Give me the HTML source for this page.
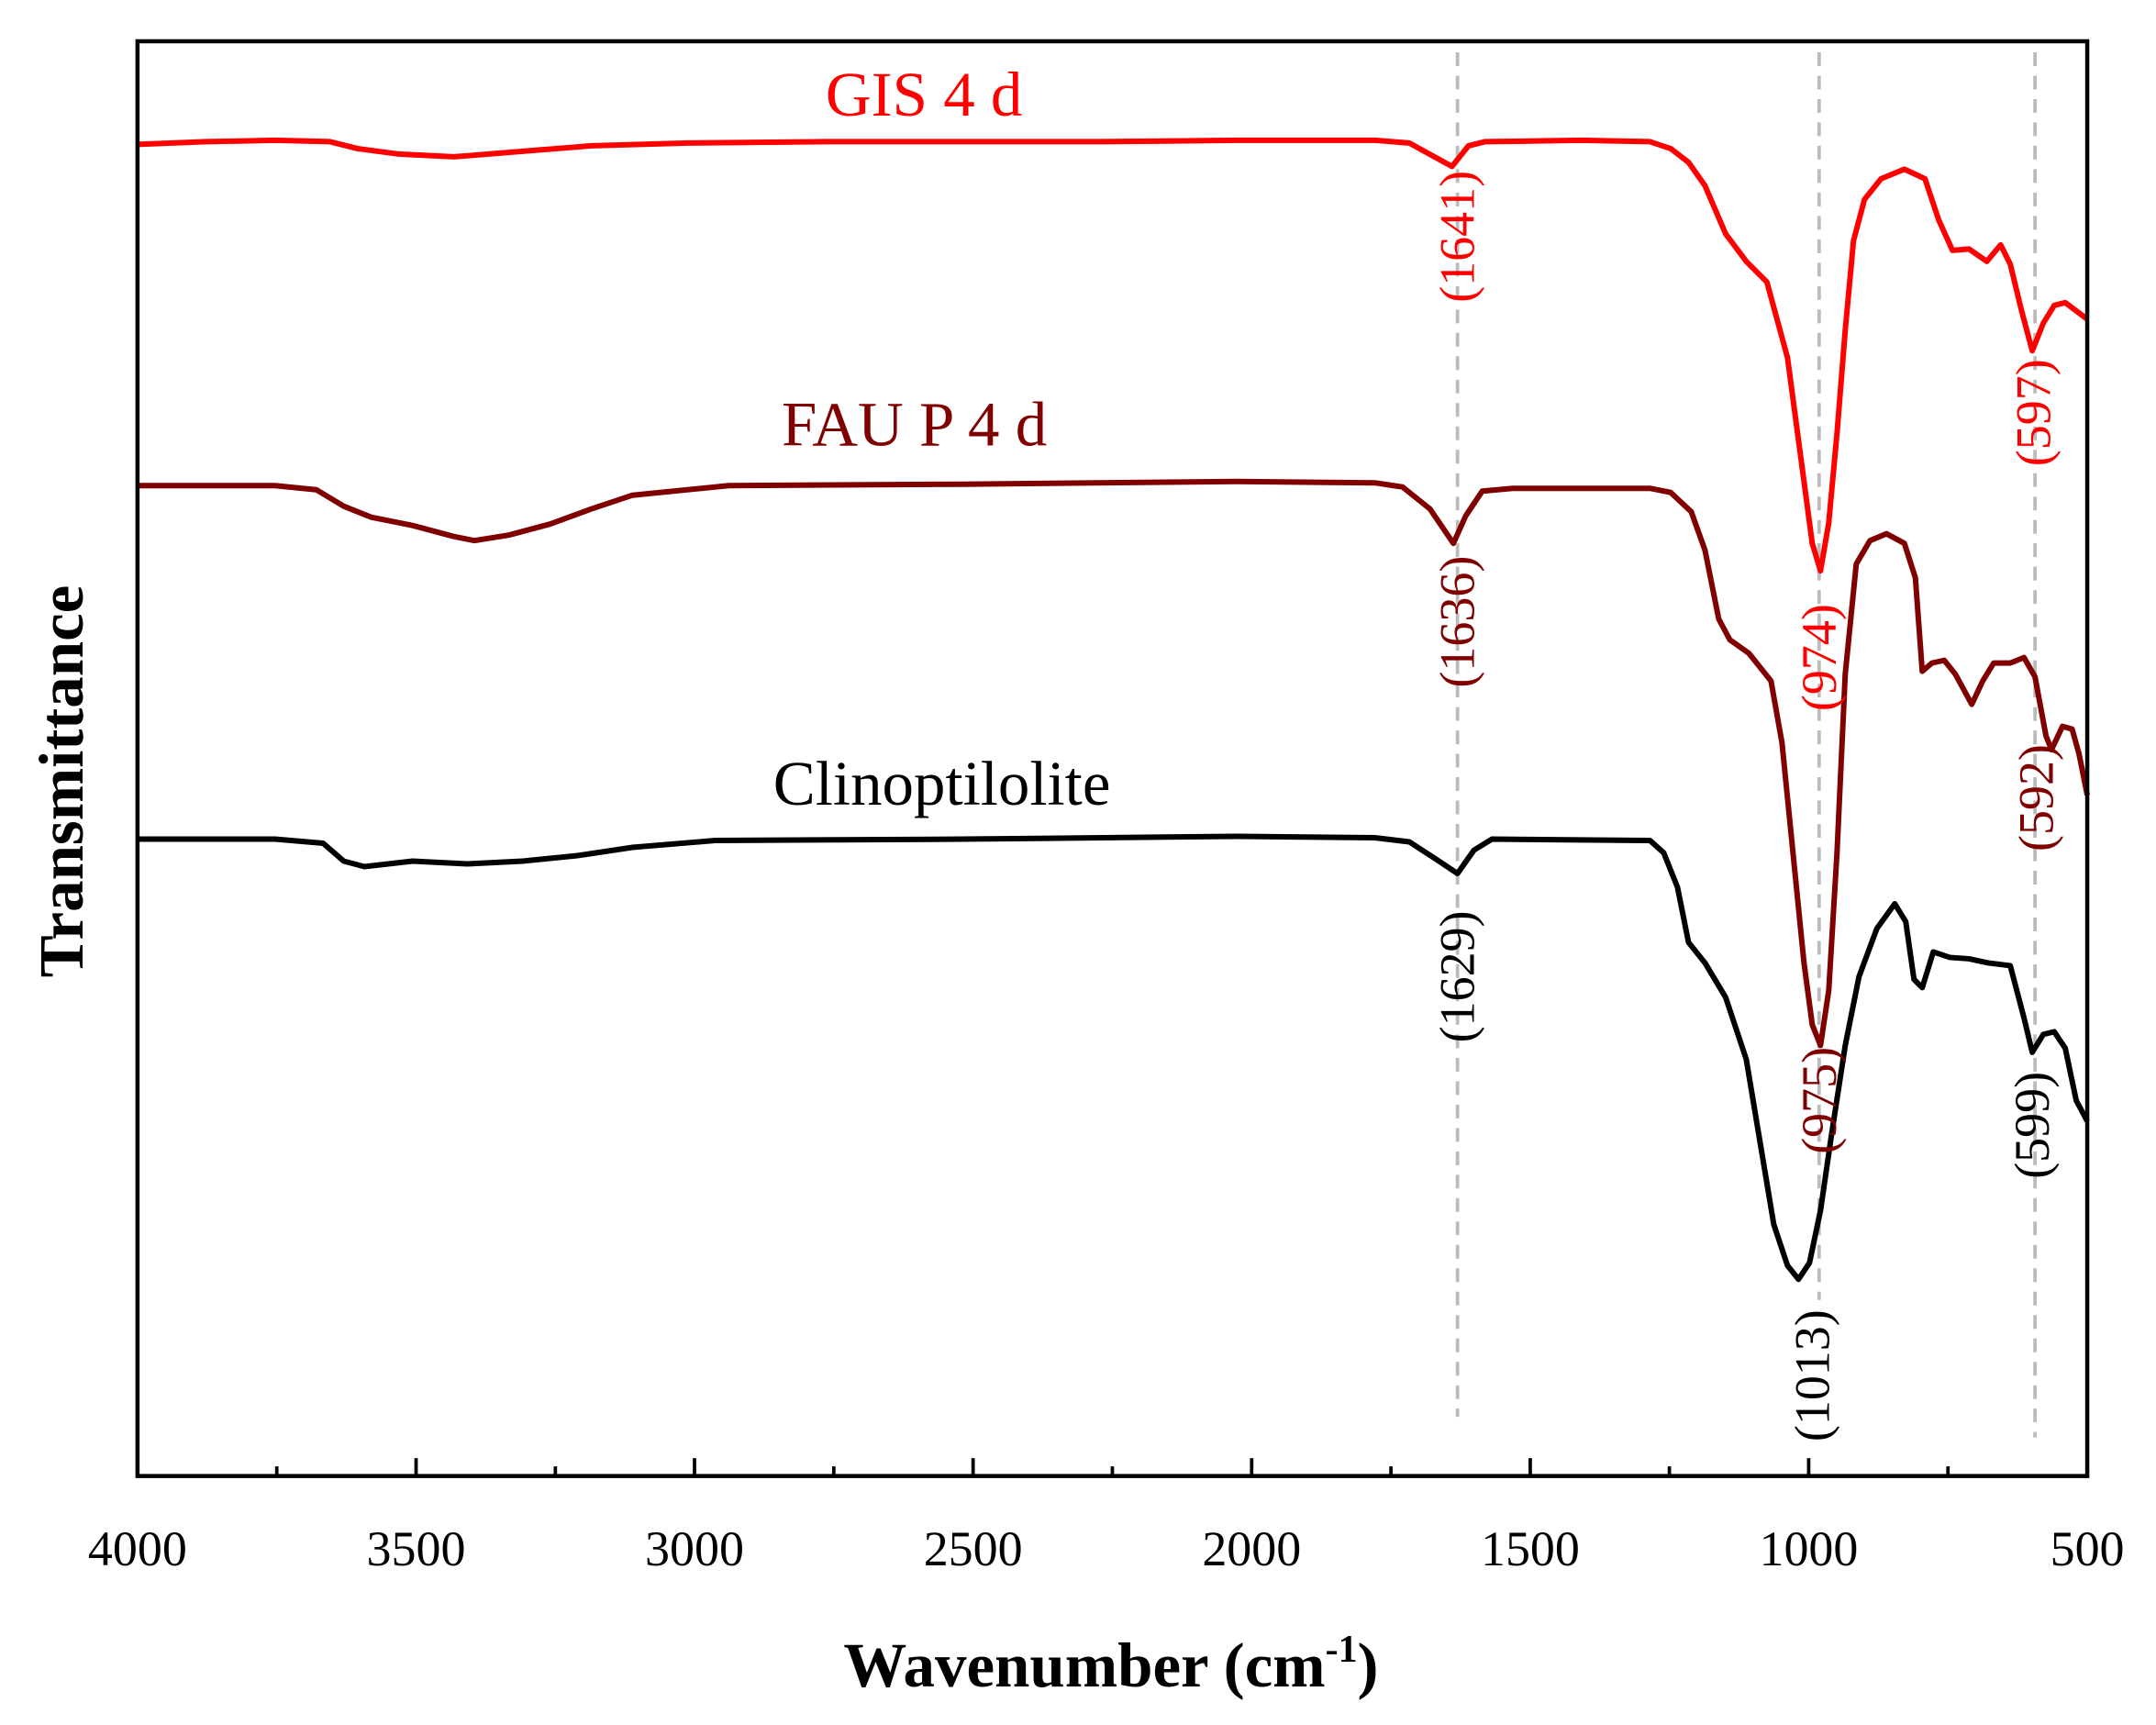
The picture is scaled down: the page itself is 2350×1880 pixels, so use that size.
<!DOCTYPE html>
<html><head><meta charset="utf-8"><style>html,body{margin:0;padding:0;background:#fff}svg{display:block}</style></head>
<body>
<svg width="2350" height="1880" viewBox="0 0 1568 1254" preserveAspectRatio="none" xmlns="http://www.w3.org/2000/svg" font-family="Liberation Serif, serif">
<rect width="1568" height="1254" fill="#fff"/>
<g stroke="#bbb" stroke-width="2.5" stroke-dasharray="10,7" fill="none">
<line x1="1060" y1="38" x2="1060" y2="1030"/>
<line x1="1323" y1="38" x2="1323" y2="945"/>
<line x1="1480" y1="38" x2="1480" y2="1045"/>
</g>
<polyline fill="none" stroke="#ff0000" stroke-width="4" stroke-linejoin="round" points="100,105 150,103 200,102 240,103 260,108 290,112 330,114 380,110 430,106 500,104 600,103 800,103 900,102 1000,102 1025,104 1045,115 1056,121 1068,106 1080,103 1150,102 1200,103 1215,108 1228,118 1240,135 1255,170 1270,190 1285,205 1300,260 1312,350 1318,395 1324,415 1330,380 1336,315 1342,240 1348,175 1356,145 1368,130 1385,123 1400,130 1410,160 1420,182 1432,181 1445,190 1455,178 1462,192 1470,225 1478,255 1486,235 1494,222 1502,220 1510,226 1518,232"/>
<polyline fill="none" stroke="#800000" stroke-width="4" stroke-linejoin="round" points="100,353 200,353 230,356 250,368 270,376 300,382 330,390 345,393 370,389 400,381 430,370 460,360 530,353 700,352 900,350 1000,351 1020,354 1040,370 1057,395 1066,375 1078,357 1100,355 1200,355 1215,358 1230,372 1240,400 1250,450 1258,465 1272,475 1288,495 1296,540 1304,620 1312,700 1318,745 1324,760 1330,720 1336,620 1342,490 1350,410 1360,393 1372,388 1385,395 1393,420 1398,488 1405,482 1414,480 1422,490 1434,512 1442,495 1450,482 1462,482 1472,478 1480,492 1488,535 1492,545 1500,528 1507,530 1512,548 1518,578"/>
<polyline fill="none" stroke="#000" stroke-width="4" stroke-linejoin="round" points="100,610 200,610 235,613 250,626 265,630 300,626 340,628 380,626 420,622 460,616 520,611 700,610 900,608 1000,609 1025,612 1045,625 1060,635 1072,618 1085,610 1200,611 1210,620 1220,645 1228,685 1240,700 1255,725 1270,770 1280,830 1290,890 1300,920 1308,930 1316,918 1324,880 1332,825 1342,760 1352,710 1365,675 1378,657 1386,670 1392,712 1398,718 1406,692 1418,696 1432,697 1446,700 1462,702 1472,740 1478,765 1486,752 1494,750 1502,762 1510,800 1518,815"/>
<rect x="100" y="30" width="1418" height="1043" fill="none" stroke="#000" stroke-width="3"/>
<g stroke="#000" stroke-width="2.5">
<line x1="100" y1="1073" x2="100" y2="1060"/><line x1="302.6" y1="1073" x2="302.6" y2="1060"/><line x1="505.1" y1="1073" x2="505.1" y2="1060"/><line x1="707.7" y1="1073" x2="707.7" y2="1060"/><line x1="910.3" y1="1073" x2="910.3" y2="1060"/><line x1="1112.9" y1="1073" x2="1112.9" y2="1060"/><line x1="1315.4" y1="1073" x2="1315.4" y2="1060"/>
<line x1="201.3" y1="1073" x2="201.3" y2="1066"/><line x1="403.9" y1="1073" x2="403.9" y2="1066"/><line x1="606.4" y1="1073" x2="606.4" y2="1066"/><line x1="809" y1="1073" x2="809" y2="1066"/><line x1="1011.6" y1="1073" x2="1011.6" y2="1066"/><line x1="1214.1" y1="1073" x2="1214.1" y2="1066"/><line x1="1416.7" y1="1073" x2="1416.7" y2="1066"/>
</g>
<g font-size="36" text-anchor="middle" fill="#000">
<text x="100" y="1138">4000</text><text x="302.6" y="1138">3500</text><text x="505.1" y="1138">3000</text><text x="707.7" y="1138">2500</text><text x="910.3" y="1138">2000</text><text x="1112.9" y="1138">1500</text><text x="1315.4" y="1138">1000</text><text x="1518" y="1138">500</text>
</g>
<text x="808" y="1226" font-size="46" font-weight="bold" text-anchor="middle">Wavenumber (cm<tspan font-size="28" dy="-18">-1</tspan><tspan dy="18">)</tspan></text>
<text transform="translate(60,568) rotate(-90)" font-size="46" font-weight="bold" text-anchor="middle">Transmittance</text>
<text x="672" y="84" font-size="46" fill="#ff0000" text-anchor="middle">GIS 4 d</text>
<text x="665" y="324" font-size="46" fill="#800000" text-anchor="middle">FAU P 4 d</text>
<text x="685" y="585" font-size="46" fill="#000" text-anchor="middle">Clinoptilolite</text>
<g font-size="36" text-anchor="middle">
<text transform="translate(1072,172) rotate(-90)" fill="#ff0000">(1641)</text>
<text transform="translate(1072,452) rotate(-90)" fill="#800000">(1636)</text>
<text transform="translate(1072,710) rotate(-90)" fill="#000">(1629)</text>
<text transform="translate(1335,478) rotate(-90)" fill="#ff0000">(974)</text>
<text transform="translate(1335,800) rotate(-90)" fill="#800000">(975)</text>
<text transform="translate(1330,1000) rotate(-90)" fill="#000">(1013)</text>
<text transform="translate(1491,300) rotate(-90)" fill="#ff0000">(597)</text>
<text transform="translate(1493,580) rotate(-90)" fill="#800000">(592)</text>
<text transform="translate(1490,818) rotate(-90)" fill="#000">(599)</text>
</g>
</svg>
</body></html>
